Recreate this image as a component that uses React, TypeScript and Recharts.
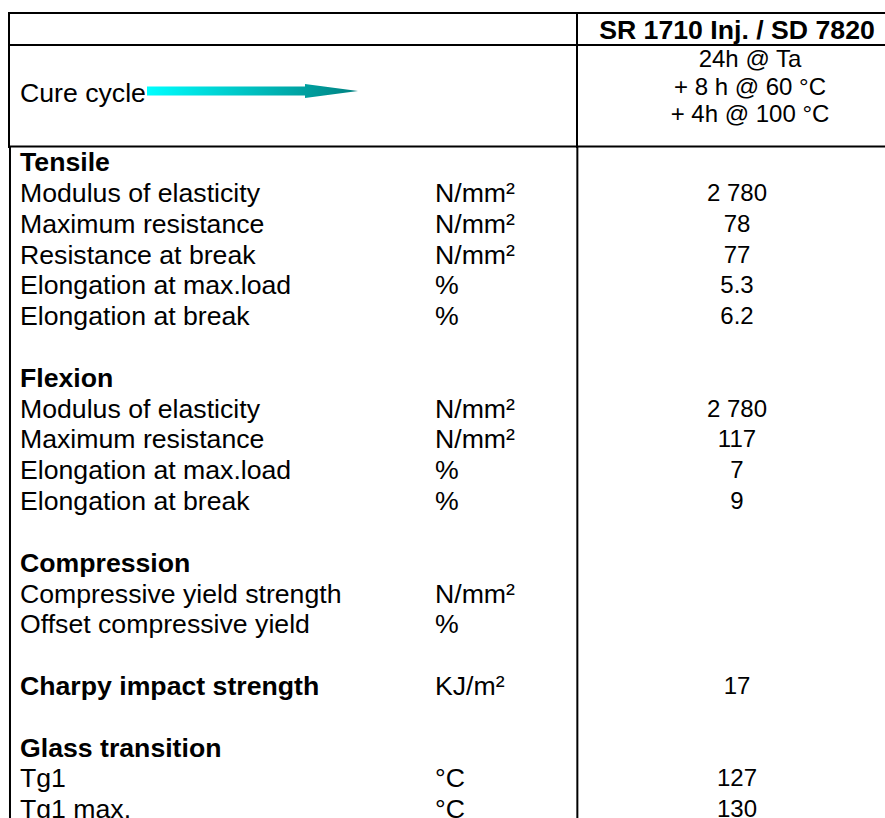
import React from 'react';
import { BarChart, Bar, XAxis, YAxis, ReferenceLine, Customized } from 'recharts';

// property table, one entry per body row (empty strings = spacer rows)
const rowLabels = [
  'Tensile',
  'Modulus of elasticity',
  'Maximum resistance',
  'Resistance at break',
  'Elongation at max.load',
  'Elongation at break',
  '',
  'Flexion',
  'Modulus of elasticity',
  'Maximum resistance',
  'Elongation at max.load',
  'Elongation at break',
  '',
  'Compression',
  'Compressive yield strength',
  'Offset compressive yield',
  '',
  'Charpy impact strength',
  '',
  'Glass transition',
  'Tg1',
  'Tg1 max.',
];

const rowUnits = [
  '', 'N/mm²', 'N/mm²', 'N/mm²', '%', '%', '',
  '', 'N/mm²', 'N/mm²', '%', '%', '',
  '', 'N/mm²', '%', '',
  'KJ/m²', '',
  '', '°C', '°C',
];

const rowValues = [
  '', '2 780', '78', '77', '5.3', '6.2', '',
  '', '2 780', '117', '7', '9', '',
  '', '', '', '',
  '17', '',
  '', '127', '130',
];

const sectionRows = ['Tensile', 'Flexion', 'Compression', 'Charpy impact strength', 'Glass transition'];

const systemName = 'SR 1710 Inj. / SD 7820';
const cureLabel = 'Cure cycle';
const cureSteps = ['24h @ Ta', '+ 8 h @ 60 °C', '+ 4h @ 100 °C'];

const tableRows = rowLabels.map((label, i) => ({
  rowId: `row${i}`,
  label,
  unit: rowUnits[i],
  value: rowValues[i],
  bar: 0,
}));

const FONT = '"Liberation Sans", Arial, sans-serif';
const W = 885;
const LEFT = 9;
const SPLIT = 577;
const LABEL_X = 20;
const UNIT_X = 435;
const VALUE_X = 737;

const renderRow = (props: any) => {
  const { y, payload } = props;
  const row = tableRows.find(r => r.rowId === payload.value);
  if (!row) return <g />;
  const base = y + 8.7;
  const bold = sectionRows.includes(row.label);
  return (
    <g fontFamily={FONT} fill="#000">
      <text x={LABEL_X} y={base} fontSize={26.67} fontWeight={bold ? 'bold' : 'normal'} textAnchor="start">
        {row.label}
      </text>
      <text x={UNIT_X} y={base} fontSize={26.67} textAnchor="start">{row.unit}</text>
      <text x={VALUE_X} y={base - 1} fontSize={24} textAnchor="middle">{row.value}</text>
    </g>
  );
};

function HeaderBlock() {
  return (
    <g fontFamily={FONT} fill="#000">
      <defs>
        <linearGradient id="arrowFill" x1="0" y1="0" x2="1" y2="0">
          <stop offset="0%" stopColor="#00ffff" />
          <stop offset="100%" stopColor="#008080" />
        </linearGradient>
      </defs>
      <line x1={LEFT - 1} y1={13} x2={W} y2={13} stroke="#000" strokeWidth={2} />
      <line x1={LEFT - 1} y1={45} x2={W} y2={45} stroke="#000" strokeWidth={2} />
      <line x1={LEFT - 1} y1={146.5} x2={W} y2={146.5} stroke="#000" strokeWidth={2} />
      <line x1={LEFT} y1={12} x2={LEFT} y2={148} stroke="#000" strokeWidth={2} />
      <line x1={SPLIT} y1={12} x2={SPLIT} y2={148} stroke="#000" strokeWidth={2} />
      <text x={VALUE_X} y={38.5} fontSize={26.67} fontWeight="bold" textAnchor="middle">{systemName}</text>
      {cureSteps.map((s, i) => (
        <text key={s} x={750} y={67 + i * 27.6} fontSize={24} textAnchor="middle">{s}</text>
      ))}
      <text x={LABEL_X} y={102} fontSize={26.67} textAnchor="start">{cureLabel}</text>
      <polygon
        points="147,86.5 305,86.5 305,84 358,91 305,98 305,95.5 147,95.5"
        fill="url(#arrowFill)"
      />
    </g>
  );
}

export default function App() {
  return (
    <div style={{ position: 'absolute', left: 0, top: 0, width: W, height: 818, overflow: 'hidden', background: '#fff' }}>
      <BarChart
        width={W}
        height={825}
        data={tableRows}
        layout="vertical"
        margin={{ top: 147, right: 0, bottom: 0, left: 0 }}
      >
        <XAxis type="number" domain={[0, W]} hide />
        <YAxis
          type="category"
          dataKey="rowId"
          width={1}
          axisLine={false}
          tickLine={false}
          interval={0}
          tick={renderRow}
        />
        <Bar dataKey="bar" fill="none" isAnimationActive={false} />
        <ReferenceLine x={LEFT} stroke="#000" strokeWidth={2} />
        <ReferenceLine x={SPLIT} stroke="#000" strokeWidth={2} />
        <Customized component={<HeaderBlock />} />
      </BarChart>
    </div>
  );
}
